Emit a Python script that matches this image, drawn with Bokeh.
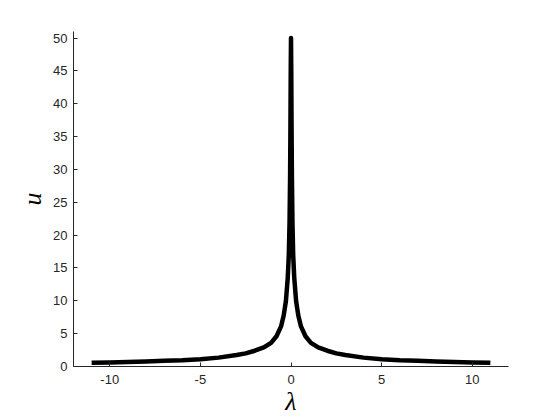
from bokeh.plotting import figure
from bokeh.models import Range1d, FixedTicker
from bokeh.embed import file_html
from bokeh.resources import INLINE

# values
lam = [-11, -10, -9, -8, -7, -6, -5, -4, -3, -2.5, -2, -1.5, -1.1, -0.8, -0.55, -0.4,
       -0.28, -0.18, -0.12, -0.08, -0.05, -0.03, -0.015, 0,
       0.015, 0.03, 0.05, 0.08, 0.12, 0.18, 0.28, 0.4, 0.55, 0.8, 1.1, 1.5, 2, 2.5,
       3, 4, 5, 6, 7, 8, 9, 10, 11]
u = [0.56, 0.62, 0.70, 0.78, 0.88, 0.96, 1.12, 1.35, 1.75, 2.0, 2.4, 2.9, 3.6, 4.6, 6.1, 7.8,
     10.0, 13.5, 17.0, 22.0, 29.0, 37.0, 45.0, 50.0,
     45.0, 37.0, 29.0, 22.0, 17.0, 13.5, 10.0, 7.8, 6.1, 4.6, 3.6, 2.9, 2.4, 2.0,
     1.75, 1.35, 1.12, 0.96, 0.88, 0.78, 0.70, 0.62, 0.56]

x_ticks = [-10, -5, 0, 5, 10]
x_tick_labels = ["-10", "-5", "0", "5", "10"]
y_ticks = [0, 5, 10, 15, 20, 25, 30, 35, 40, 45, 50]
y_tick_labels = ["0", "5", "10", "15", "20", "25", "30", "35", "40", "45", "50"]
x_label = "λ"
y_label = "u"

AX = "#262626"

p = figure(width=556, height=418, output_backend="svg", toolbar_location=None,
           x_range=Range1d(-12, 12), y_range=Range1d(0, 51),
           min_border_left=73, min_border_right=48, min_border_top=31, min_border_bottom=52)
p.outline_line_color = None
p.xgrid.visible = False
p.ygrid.visible = False
p.background_fill_color = "white"
p.border_fill_color = "white"

p.line(lam, u, line_color="black", line_width=4.5, line_join="round")

for ax, ticks, labels in ((p.xaxis[0], x_ticks, x_tick_labels), (p.yaxis[0], y_ticks, y_tick_labels)):
    ax.ticker = FixedTicker(ticks=ticks)
    ax.major_label_overrides = {t: l for t, l in zip(ticks, labels)}
    ax.minor_tick_line_color = None
    ax.major_tick_in = 4
    ax.major_tick_out = 0
    ax.axis_line_color = AX
    ax.major_tick_line_color = AX
    ax.major_label_text_color = AX
    ax.major_label_text_font = "Liberation Sans"
    ax.major_label_text_font_size = "13px"
    ax.axis_label_text_font = "Liberation Serif"
    ax.axis_label_text_font_style = "italic"
    ax.axis_label_text_font_size = "26px"
    ax.axis_label_text_color = "black"

p.xaxis.axis_label = x_label
p.yaxis.axis_label = y_label
p.xaxis.major_label_standoff = 8
p.yaxis.major_label_standoff = 6
p.xaxis.axis_label_standoff = 0
p.yaxis.axis_label_standoff = 3

open("out.html", "w").write(file_html(p, INLINE))
